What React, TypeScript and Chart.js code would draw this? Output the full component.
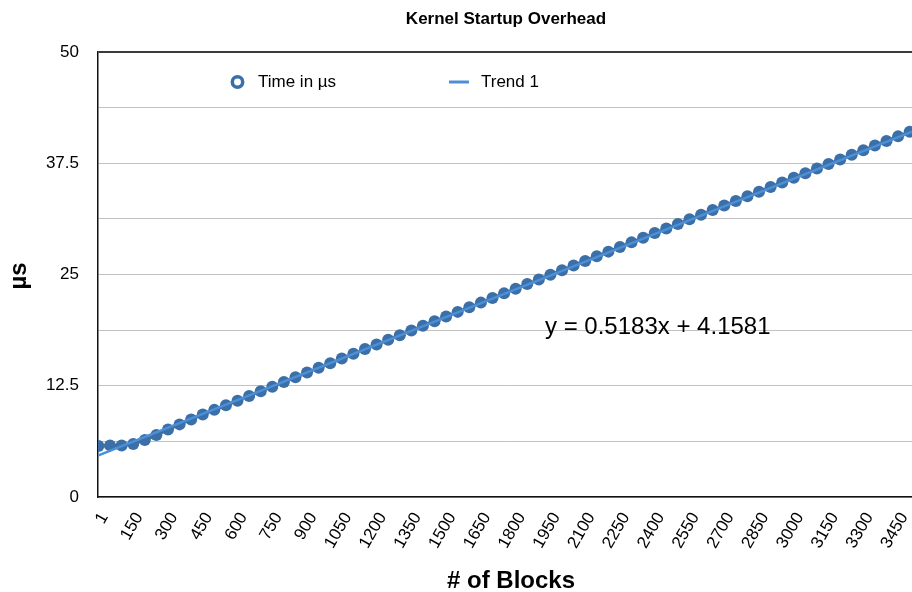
import React, { useEffect, useRef } from 'react';
import { Chart, registerables } from 'chart.js';

Chart.register(...registerables);

const FONT = '"Liberation Sans", Arial, Helvetica, sans-serif';

const TITLE = 'Kernel Startup Overhead';
const X_TITLE = '# of Blocks';
const Y_TITLE = 'µs';
const SERIES_NAME = 'Time in µs';
const TREND_NAME = 'Trend 1';

// Number of thread blocks launched per measurement
const BLOCK_COUNTS = [
  1, 50, 100, 150, 200, 250, 300, 350, 400, 450,
  500, 550, 600, 650, 700, 750, 800, 850, 900, 950,
  1000, 1050, 1100, 1150, 1200, 1250, 1300, 1350, 1400, 1450,
  1500, 1550, 1600, 1650, 1700, 1750, 1800, 1850, 1900, 1950,
  2000, 2050, 2100, 2150, 2200, 2250, 2300, 2350, 2400, 2450,
  2500, 2550, 2600, 2650, 2700, 2750, 2800, 2850, 2900, 2950,
  3000, 3050, 3100, 3150, 3200, 3250, 3300, 3350, 3400, 3450,
  3500,
];

// Measured kernel launch time in microseconds
const TIME_US = [
  5.73, 5.80, 5.78, 5.96, 6.40, 6.96, 7.58, 8.16, 8.72, 9.27,
  9.79, 10.31, 10.82, 11.35, 11.87, 12.39, 12.91, 13.45, 13.98, 14.51,
  15.03, 15.56, 16.09, 16.62, 17.13, 17.66, 18.18, 18.71, 19.23, 19.75,
  20.27, 20.80, 21.31, 21.84, 22.36, 22.88, 23.40, 23.92, 24.45, 24.98,
  25.49, 26.01, 26.53, 27.05, 27.57, 28.09, 28.61, 29.13, 29.65, 30.16,
  30.68, 31.20, 31.72, 32.24, 32.75, 33.27, 33.79, 34.31, 34.83, 35.35,
  35.86, 36.38, 36.90, 37.42, 37.93, 38.45, 38.97, 39.49, 40.00, 40.52,
  41.04,
];

// Block counts printed under the x axis
const X_TICK_LABELS = [
  '1', '150', '300', '450', '600', '750', '900', '1050', '1200', '1350',
  '1500', '1650', '1800', '1950', '2100', '2250', '2400', '2550', '2700', '2850',
  '3000', '3150', '3300', '3450',
];

// Labelled y values; gridlines fall every half step
const Y_TICK_LABELS = [0, 12.5, 25, 37.5, 50];
const Y_GRID_STEP = 6.25;

// Linear trend over the sample index (1-based)
const TREND_SLOPE = 0.5183;
const TREND_INTERCEPT = 4.1581;
const TREND_TEXT = 'y = 0.5183x + 4.1581';

// Visible index window on the x axis
const X_MIN = 0.96;
const X_MAX = 71.2;

const POINT_COLOR = '#3b6fa8';
const TREND_COLOR = '#4d8fd6';
const POINT_RADIUS = 6;

// Chart.js reserves the marker radius on the right; the canvas is widened by
// that much so the plot runs to the window edge, as in a cropped export.
const CANVAS_W = 912 + POINT_RADIUS;
const CANVAS_H = 592;

const trendAt = (i: number) => TREND_SLOPE * i + TREND_INTERCEPT;

const overlayText = {
  id: 'overlayText',
  afterDraw(chart: any) {
    const { ctx } = chart;
    ctx.save();
    ctx.fillStyle = '#000';
    ctx.textBaseline = 'middle';

    // chart title
    ctx.textAlign = 'center';
    ctx.font = `bold 17px ${FONT}`;
    ctx.fillText(TITLE, 506, 19);

    // axis titles
    ctx.font = `bold 24px ${FONT}`;
    ctx.fillText(X_TITLE, 511, 581);
    ctx.save();
    ctx.translate(19, 276);
    ctx.rotate(-Math.PI / 2);
    ctx.fillText(Y_TITLE, 0, 0);
    ctx.restore();

    // legend
    const ly = 82;
    ctx.strokeStyle = POINT_COLOR;
    ctx.lineWidth = 3.5;
    ctx.beginPath();
    ctx.arc(237.5, ly, 5.2, 0, Math.PI * 2);
    ctx.stroke();
    ctx.strokeStyle = TREND_COLOR;
    ctx.lineWidth = 3;
    ctx.beginPath();
    ctx.moveTo(449, ly);
    ctx.lineTo(469, ly);
    ctx.stroke();
    ctx.textAlign = 'left';
    ctx.font = `17px ${FONT}`;
    ctx.fillText(SERIES_NAME, 258, ly);
    ctx.fillText(TREND_NAME, 481, ly);

    // trend equation
    ctx.font = `24px ${FONT}`;
    ctx.fillText(TREND_TEXT, 545, 327);
    ctx.restore();
  },
};

export default function App() {
  const canvasRef = useRef<HTMLCanvasElement>(null);

  useEffect(() => {
    const canvas = canvasRef.current;
    if (!canvas) return;

    const points = TIME_US.map((y, i) => ({ x: i + 1, y }));
    const trend = [
      { x: 1, y: trendAt(1) },
      { x: X_MAX, y: trendAt(X_MAX) },
    ];
    const tickIndex = X_TICK_LABELS.map((l) => BLOCK_COUNTS.indexOf(Number(l)) + 1);

    const chart = new Chart(canvas, {
      type: 'line',
      data: {
        datasets: [
          {
            label: TREND_NAME,
            data: trend,
            borderColor: TREND_COLOR,
            borderWidth: 2.5,
            pointRadius: 0,
            tension: 0,
          },
          {
            label: SERIES_NAME,
            data: points,
            borderColor: POINT_COLOR,
            borderWidth: 3,
            pointRadius: POINT_RADIUS,
            pointBackgroundColor: POINT_COLOR,
            pointBorderWidth: 0,
            tension: 0,
          },
        ],
      },
      options: {
        animation: false,
        responsive: true,
        maintainAspectRatio: false,
        layout: { padding: { top: 52, right: 0, left: 0, bottom: 0 } },
        plugins: {
          legend: { display: false },
          title: { display: false },
          tooltip: { enabled: false },
        },
        scales: {
          x: {
            type: 'linear',
            min: X_MIN,
            max: X_MAX,
            grid: { display: false, drawTicks: false },
            border: { display: true, color: '#111', width: 1.5 },
            afterBuildTicks: (scale: any) => {
              scale.ticks = tickIndex.map((v) => ({ value: v }));
            },
            afterFit: (scale: any) => {
              scale.height = 95;
              scale.paddingLeft = 0;
              scale.paddingRight = 0;
            },
            ticks: {
              autoSkip: false,
              minRotation: 60,
              maxRotation: 60,
              padding: 12,
              labelOffset: 6,
              color: '#000',
              font: { family: FONT, size: 17 },
              callback: (v: any) => String(BLOCK_COUNTS[Math.round(Number(v)) - 1]),
            },
          },
          y: {
            min: 0,
            max: 50,
            grid: {
              drawTicks: false,
              color: (c: any) => (c.tick && c.tick.value === 50 ? '#3a3a3a' : '#c2c2c2'),
              lineWidth: (c: any) => (c.tick && c.tick.value === 50 ? 2 : 1),
            },
            border: { display: true, color: '#111', width: 1.5 },
            afterFit: (scale: any) => {
              scale.width = 98;
            },
            ticks: {
              stepSize: Y_GRID_STEP,
              padding: 19,
              color: '#000',
              font: { family: FONT, size: 17 },
              callback: (v: any) => (Y_TICK_LABELS.includes(Number(v)) ? String(v) : ''),
            },
          },
        },
      },
      plugins: [overlayText],
    });

    return () => chart.destroy();
  }, []);

  return (
    <div
      style={{
        position: 'fixed',
        left: 0,
        top: 0,
        width: CANVAS_W,
        height: CANVAS_H,
        background: '#fff',
      }}
    >
      <canvas ref={canvasRef} />
    </div>
  );
}
